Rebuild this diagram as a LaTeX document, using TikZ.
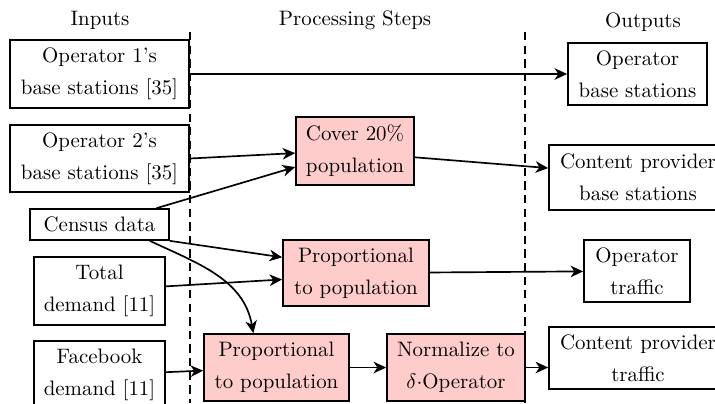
\documentclass[tikz,border=0pt]{standalone}
\usepackage{amsmath, amssymb}
\usepackage{xcolor}
\usepackage{tikz}
\usetikzlibrary{arrows.meta}

\newcommand{\px}{0.4785pt}
\tikzset{
    inbox/.style={draw, thick, align=center, inner sep=0pt, font=\linespread{1.27}\selectfont},
    stepbox/.style={inbox, fill=red!20},
    divider/.style={thick, dash pattern=on 4pt off 2.5pt},
}

\begin{document}
\begin{tikzpicture}[x=\px, y=-\px]
                \useasboundingbox (0,0) rectangle (715,403);
                % column titles
                \node at (100,20) (inhead) {Inputs};
                \node at (355,20) (stephead) {Processing Steps};
                \node at (643,22) (outhead) {Outputs};
                % dividers
                \coordinate (d1top) at (190,32);
                \coordinate (d1bot) at (190,403);
                \coordinate (d2top) at (525,32);
                \coordinate (d2bot) at (525,403);
                \draw[divider] (d1top) -- (d1bot);
                \draw[divider] (d2top) -- (d2bot);
                % inputs
                \node[inbox, minimum width=179*\px, minimum height=68*\px] at (99.5,74) (op1) {Operator 1's\\base stations [35]};
                \node[inbox, minimum width=179*\px, minimum height=67*\px] at (99.5,158.5) (op2) {Operator 2's\\base stations [35]};
                \node[inbox, minimum width=139*\px, minimum height=31*\px] at (99.5,224.5) (census) {Census data};
                \node[inbox, minimum width=131*\px, minimum height=68*\px] at (99.5,291) (total) {Total\\demand [11]};
                \node[inbox, minimum width=131*\px, minimum height=68*\px] at (99.5,375) (fb) {Facebook\\demand [11]};
                % processing steps
                \node[stepbox, minimum width=118*\px, minimum height=68*\px] at (355,151) (cover) {Cover 20\%\\population};
                \node[stepbox, minimum width=146*\px, minimum height=66*\px] at (356,273) (propop) {Proportional\\to population};
                \node[stepbox, minimum width=145*\px, minimum height=67*\px] at (276.5,367.5) (propfb) {Proportional\\to population};
                \node[stepbox, minimum width=138*\px, minimum height=67*\px] at (456,367.5) (norm) {Normalize to\\$\delta{\cdot}$Operator};
                % outputs
                \node[inbox, minimum width=139*\px, minimum height=62*\px] at (637.5,74) (opbs) {Operator\\base stations};
                \node[inbox, minimum width=178*\px, minimum height=65*\px] at (638,177.5) (cpbs) {Content provider\\base stations};
                \node[inbox, minimum width=106*\px, minimum height=62*\px] at (637,271) (optraf) {Operator\\traffic};
                \node[inbox, minimum width=178*\px, minimum height=62*\px] at (638,358) (cptraf) {Content provider\\traffic};
                \path[->, thick]
                    (op1)  edge [>={Stealth[length=6pt,width=5.5pt,inset=1.8pt]}] (opbs)
                    (op2.east)  edge [>={Stealth[length=6pt,width=5.5pt,inset=1.8pt]}] (cover.182)
                    (census.16)  edge [>={Stealth[length=6pt,width=5.5pt,inset=1.8pt]}] (cover.195)
                    (cover.-6)  edge [>={Stealth[length=6pt,width=5.5pt,inset=1.8pt]}] (cpbs.174)
                    (census.south east)  edge [>={Stealth[length=6pt,width=5.5pt,inset=1.8pt]}] (propop.168)
                    (total.4)  edge [>={Stealth[length=6pt,width=5.5pt,inset=1.8pt]}] (propop.185)
                    (census.-18)  edge [>={Stealth[length=6pt,width=5.5pt,inset=1.8pt]}, out=-25, in=100] (propfb.124)
                    (propop)  edge [>={Stealth[length=6pt,width=5.5pt,inset=1.8pt]}] (optraf)
                    (fb)  edge [>={Stealth[length=6pt,width=5.5pt,inset=1.8pt]}] (propfb)
                    (propfb)  edge [>={Stealth[length=6pt,width=5.5pt,inset=1.8pt]}] (norm)
                    (norm.east)  edge [>={Stealth[length=6pt,width=5.5pt,inset=1.8pt]}] (norm.east -| cptraf.west);
            \end{tikzpicture}
\end{document}
